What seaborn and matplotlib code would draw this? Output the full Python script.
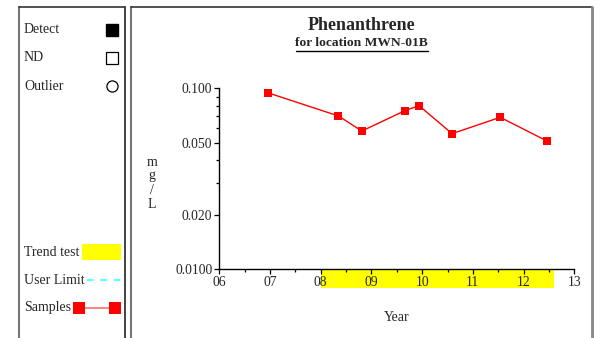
import numpy as np
import pandas as pd
import matplotlib
matplotlib.use("Agg")
import matplotlib.pyplot as plt
import matplotlib.transforms as mtransforms
from matplotlib.patches import Rectangle
from matplotlib.ticker import FixedLocator, FixedFormatter
import seaborn as sns

# sample dates (decimal year, 06 = 2006) and concentrations (mg/L)
years = [6.97, 8.35, 8.81, 9.66, 9.94, 10.59, 11.54, 12.46]
values = [0.0942, 0.0703, 0.0580, 0.0752, 0.0801, 0.0561, 0.0691, 0.0511]
trend_start, trend_end = 8.0, 12.59
x_ticks = [6, 7, 8, 9, 10, 11, 12, 13]
x_labels = ["06", "07", "08", "09", "10", "11", "12", "13"]
y_ticks = [0.01, 0.02, 0.05, 0.1]
y_labels = ["0.0100", "0.020", "0.050", "0.100"]
y_minor = [0.03, 0.04, 0.06, 0.07, 0.08, 0.09]

df = pd.DataFrame({"Year": years, "Value": values})

sns.set_style("white")
plt.rcParams["font.family"] = ["Liberation Serif", "DejaVu Serif"]

W, H = 601, 338
fig = plt.figure(figsize=(W / 100, H / 100), dpi=100)

# overlay in pixel coordinates for frames, titles and legend panel
ov = fig.add_axes([0, 0, 1, 1])
ov.set_xlim(0, W)
ov.set_ylim(H, 0)
ov.axis("off")

# panel frames
ov.plot([19, 19], [7, H + 2], color="#777777", lw=1.5)
ov.plot([125, 125], [7, H + 2], color="#222222", lw=1.2)
ov.plot([19, 125], [7, 7], color="#333333", lw=1.2)
ov.plot([131, 131], [7, H + 2], color="#777777", lw=1.5)
ov.plot([131, 592], [7, 7], color="#333333", lw=1.2)
ov.plot([592, 592], [7, H + 2], color="#888888", lw=2)

# titles
ov.text(361.7, 25, "Phenanthrene", ha="center", va="center", fontsize=13, fontweight="bold")
ov.text(361.7, 43.5, "for location MWN-01B", ha="center", va="center", fontsize=9.7, fontweight="bold")
ov.plot([296, 428], [50.5, 50.5], color="black", lw=1)

# legend panel
fs = 10
ov.text(24, 29.5, "Detect", ha="left", va="center", fontsize=fs)
ov.plot([112], [29.5], marker="s", ms=8, color="black", mec="black")
ov.text(24, 57.5, "ND", ha="left", va="center", fontsize=fs)
ov.plot([112], [57.5], marker="s", ms=8, mfc="white", mec="black", mew=0.9)
ov.text(24, 86, "Outlier", ha="left", va="center", fontsize=fs)
ov.plot([112], [86], marker="o", ms=8, mfc="white", mec="black", mew=0.9)

ov.text(24, 252.5, "Trend test", ha="left", va="center", fontsize=fs)
ov.add_patch(Rectangle((81.5, 243.7), 39.3, 16.6, color="#ffff00", lw=0))
ov.text(24, 280.5, "User Limit", ha="left", va="center", fontsize=fs)
ov.plot([87, 121], [280, 280], color="#44ffff", lw=1.2, ls=(0, (4, 4)))
ov.text(24, 307.5, "Samples", ha="left", va="center", fontsize=fs)
ov.plot([79, 115], [307.5, 307.5], color="#ff7070", lw=1.2)
ov.plot([79, 115], [307.5, 307.5], ls="none", marker="s", ms=8, color="red", mew=0)

# main chart
ax = fig.add_axes([219.3 / W, 1 - 269 / H, 355 / W, 180.7 / H])
ax.patch.set_alpha(0)
sns.lineplot(data=df, x="Year", y="Value", ax=ax, color="red", lw=1,
             marker="s", markersize=6, markeredgewidth=0)
ax.set_yscale("log")
ax.set_xlim(6, 13)
ax.set_ylim(0.01, 0.1)

ax.xaxis.set_major_locator(FixedLocator(x_ticks))
ax.xaxis.set_major_formatter(FixedFormatter(x_labels))
ax.xaxis.set_minor_locator(FixedLocator([t + 0.5 for t in x_ticks[:-1]]))
ax.yaxis.set_major_locator(FixedLocator(y_ticks))
ax.yaxis.set_major_formatter(FixedFormatter(y_labels))
ax.yaxis.set_minor_locator(FixedLocator(y_minor))
ax.yaxis.set_minor_formatter(FixedFormatter([""] * len(y_minor)))

ax.tick_params(which="major", direction="out", length=3.5, width=0.9, color="black",
               labelsize=9.8, pad=1.5, bottom=True, left=True)
ax.tick_params(which="minor", direction="out", length=2.5, width=0.9, color="black",
               bottom=True, left=True)
for side in ["top", "right"]:
    ax.spines[side].set_visible(False)
for side in ["bottom", "left"]:
    ax.spines[side].set_color("black")
    ax.spines[side].set_linewidth(1)

# trend test period band below the axis
trans = mtransforms.blended_transform_factory(ax.transData, ax.transAxes)
ax.add_patch(Rectangle((trend_start, 0), trend_end - trend_start, -0.105, transform=trans,
                       color="#ffff00", lw=0, clip_on=False, zorder=0))
ax.set_axisbelow(False)

ax.set_xlabel("Year", fontsize=10, labelpad=16)
ax.set_ylabel("")
ov.text(152, 183, "m\ng\n/\nL", ha="center", va="center", fontsize=10, linespacing=1.1)

fig.savefig("out.png", dpi=100)
